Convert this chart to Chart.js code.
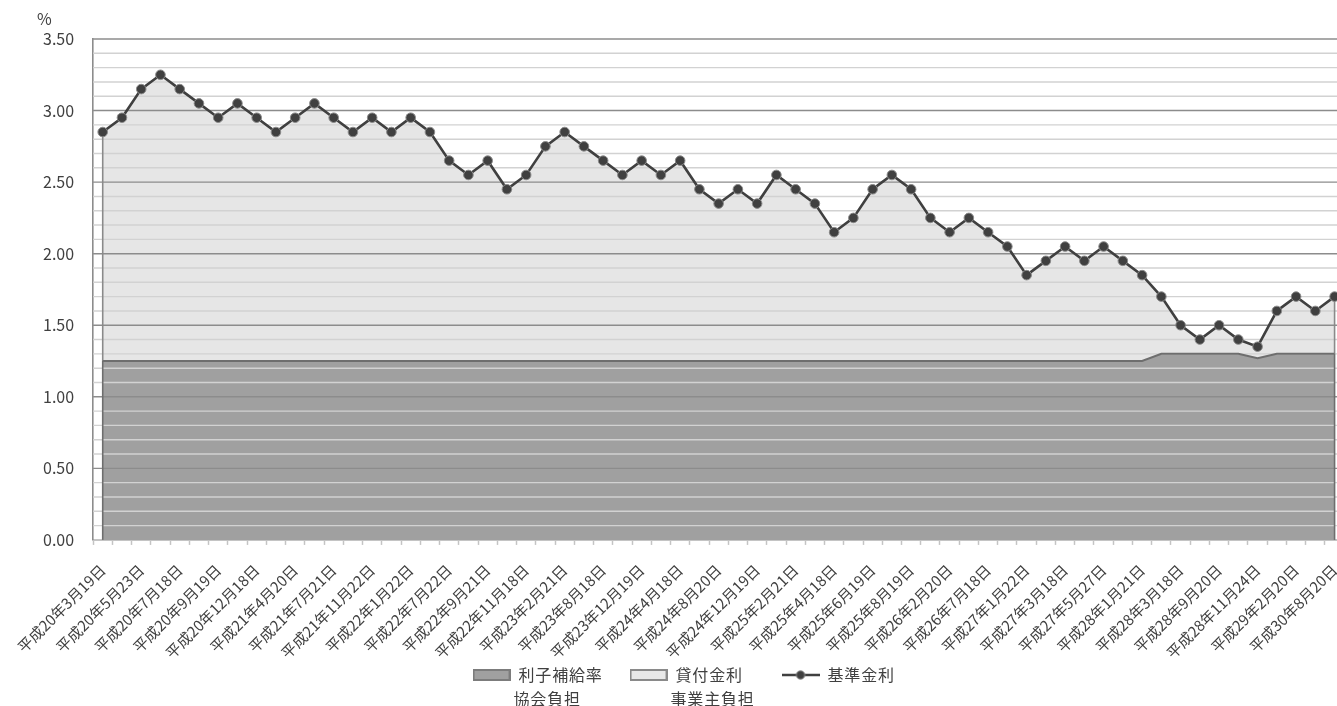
<!DOCTYPE html>
<html>
<head>
<meta charset="utf-8">
<script src="https://cdn.jsdelivr.net/npm/chart.js@4"></script>
<style>
  html, body { margin: 0; padding: 0; overflow: hidden; background: #ffffff; }
  #wrap { width: 1350px; height: 706px; position: relative; }
</style>
</head>
<body>
<div id="wrap"><canvas id="chart"></canvas></div>
<script>
// Date labels shown under every other observation
const tickDates = [
  '平成20年3月19日', '平成20年5月23日', '平成20年7月18日', '平成20年9月19日',
  '平成20年12月18日', '平成21年4月20日', '平成21年7月21日', '平成21年11月22日',
  '平成22年1月22日', '平成22年7月22日', '平成22年9月21日', '平成22年11月18日',
  '平成23年2月21日', '平成23年8月18日', '平成23年12月19日', '平成24年4月18日',
  '平成24年8月20日', '平成24年12月19日', '平成25年2月21日', '平成25年4月18日',
  '平成25年6月19日', '平成25年8月19日', '平成26年2月20日', '平成26年7月18日',
  '平成27年1月22日', '平成27年3月18日', '平成27年5月27日', '平成28年1月21日',
  '平成28年3月18日', '平成28年9月20日', '平成28年11月24日', '平成29年2月20日',
  '平成30年8月20日'
];

// 基準金利 (%)
const baseRate = [
  2.85, 2.95, 3.15, 3.25, 3.15, 3.05, 2.95, 3.05, 2.95, 2.85,
  2.95, 3.05, 2.95, 2.85, 2.95, 2.85, 2.95, 2.85, 2.65, 2.55,
  2.65, 2.45, 2.55, 2.75, 2.85, 2.75, 2.65, 2.55, 2.65, 2.55,
  2.65, 2.45, 2.35, 2.45, 2.35, 2.55, 2.45, 2.35, 2.15, 2.25,
  2.45, 2.55, 2.45, 2.25, 2.15, 2.25, 2.15, 2.05, 1.85, 1.95,
  2.05, 1.95, 2.05, 1.95, 1.85, 1.70, 1.50, 1.40, 1.50, 1.40,
  1.35, 1.60, 1.70, 1.60, 1.70
];

// 利子補給率 (協会負担, %)
const subsidyRate = [
  1.25, 1.25, 1.25, 1.25, 1.25, 1.25, 1.25, 1.25, 1.25, 1.25,
  1.25, 1.25, 1.25, 1.25, 1.25, 1.25, 1.25, 1.25, 1.25, 1.25,
  1.25, 1.25, 1.25, 1.25, 1.25, 1.25, 1.25, 1.25, 1.25, 1.25,
  1.25, 1.25, 1.25, 1.25, 1.25, 1.25, 1.25, 1.25, 1.25, 1.25,
  1.25, 1.25, 1.25, 1.25, 1.25, 1.25, 1.25, 1.25, 1.25, 1.25,
  1.25, 1.25, 1.25, 1.25, 1.25, 1.30, 1.30, 1.30, 1.30, 1.30,
  1.27, 1.30, 1.30, 1.30, 1.30
];

const yTickValues = [0, 0.5, 1, 1.5, 2, 2.5, 3, 3.5];
const subsidyLabel = ['利子補給率', '協会負担'];
const borrowerLabel = ['貸付金利', '事業主負担'];
const baseLabel = ['基準金利'];
const unitLabel = '%';

const categories = baseRate.map((_, i) => (i % 2 === 0 ? tickDates[i / 2] : ''));

const FONT = '"Noto Sans CJK JP", "Noto Sans", sans-serif';
const TEXT = '#404040';

// Legend swatches
function boxIcon(fill, stroke) {
  const c = document.createElement('canvas');
  c.width = 38; c.height = 12;
  const g = c.getContext('2d');
  g.fillStyle = fill; g.fillRect(1, 1, 36, 10);
  g.strokeStyle = stroke; g.lineWidth = 2; g.strokeRect(1, 1, 36, 10);
  return c;
}
function lineIcon() {
  const c = document.createElement('canvas');
  c.width = 38; c.height = 12;
  const g = c.getContext('2d');
  g.strokeStyle = '#404040'; g.lineWidth = 2.5;
  g.beginPath(); g.moveTo(0, 6); g.lineTo(38, 6); g.stroke();
  g.fillStyle = '#404040'; g.beginPath(); g.arc(19, 6, 4.2, 0, Math.PI * 2); g.fill();
  g.strokeStyle = '#8a8a8a'; g.lineWidth = 1; g.stroke();
  return c;
}
const legendIcons = [boxIcon('#a0a0a0', '#7c7c7c'), boxIcon('#e8e8e8', '#8a8a8a'), lineIcon()];

// Horizontal rules every 0.1 drawn over the filled bands, below the rate line,
// the side edges of the filled bands, the unit label and a two-line legend
const overlayPlugin = {
  id: 'overlay',
  beforeDatasetsDraw(chart) {
    const { ctx, chartArea } = chart;
    const y = chart.scales.y;
    const x = chart.scales.x;
    ctx.save();
    ctx.lineWidth = 1.4;
    for (let k = 1; k <= 35; k++) {
      const py = y.getPixelForValue(k / 10);
      ctx.strokeStyle = k % 5 === 0 ? '#8c8c8c' : '#d2d2d2';
      ctx.beginPath();
      ctx.moveTo(chartArea.left, py);
      ctx.lineTo(chartArea.right, py);
      ctx.stroke();
    }
    const last = baseRate.length - 1;
    [0, last].forEach(i => {
      const px = x.getPixelForValue(i);
      ctx.lineWidth = 1.6;
      ctx.strokeStyle = '#6e6e6e';
      ctx.beginPath();
      ctx.moveTo(px, y.getPixelForValue(0));
      ctx.lineTo(px, y.getPixelForValue(subsidyRate[i]));
      ctx.stroke();
      ctx.strokeStyle = '#8a8a8a';
      ctx.beginPath();
      ctx.moveTo(px, y.getPixelForValue(subsidyRate[i]));
      ctx.lineTo(px, y.getPixelForValue(baseRate[i]));
      ctx.stroke();
    });
    ctx.restore();
  },
  afterDatasetsDraw(chart) {
    // the date axis is drawn after the datasets; give its labels a little tracking
    if ('letterSpacing' in chart.ctx) chart.ctx.letterSpacing = '0.6px';
  },
  afterDraw(chart) {
    const { ctx, chartArea } = chart;
    if ('letterSpacing' in ctx) ctx.letterSpacing = '0px';
    ctx.save();
    ctx.font = '16px ' + FONT;
    ctx.fillStyle = TEXT;
    ctx.textAlign = 'left';
    ctx.textBaseline = 'middle';
    ctx.fillText(unitLabel, chartArea.left - 56, chartArea.top - 20);

    // legend
    const items = [
      { icon: legendIcons[0], lines: subsidyLabel },
      { icon: legendIcons[1], lines: borrowerLabel },
      { icon: legendIcons[2], lines: baseLabel }
    ];
    if ('letterSpacing' in ctx) ctx.letterSpacing = '0.8px';
    const iconW = 38, iconGap = 8, itemGap = 27, lineGap = 24, indent = 5;
    const widths = items.map(it => iconW + iconGap +
      Math.max(...it.lines.map((l, j) => ctx.measureText(l).width - (j > 0 ? indent : 0))));
    const total = widths.reduce((a, b) => a + b, 0) + itemGap * (items.length - 1);
    const centerX = (chartArea.left + chartArea.right) / 2 - 35;
    let lx = centerX - total / 2;
    const firstY = chart.height - 31;
    items.forEach((it, i) => {
      ctx.drawImage(it.icon, lx, firstY - 6);
      it.lines.forEach((line, j) => {
        ctx.fillText(line, lx + iconW + iconGap - (j > 0 ? indent : 0), firstY + j * lineGap);
      });
      lx += widths[i] + itemGap;
    });
    ctx.restore();
    if ('letterSpacing' in ctx) ctx.letterSpacing = '0px';
  }
};

new Chart(document.getElementById('chart'), {
  type: 'line',
  data: {
    labels: categories,
    datasets: [
      {
        label: subsidyLabel.join(''),
        data: subsidyRate,
        order: 3,
        fill: 'origin',
        backgroundColor: '#a0a0a0',
        borderColor: '#6e6e6e',
        borderWidth: 2,
        pointRadius: 0,
        tension: 0
      },
      {
        label: borrowerLabel.join(''),
        data: baseRate,
        order: 2,
        fill: '-1',
        backgroundColor: '#e6e6e6',
        borderWidth: 0,
        borderColor: 'rgba(0,0,0,0)',
        pointRadius: 0,
        tension: 0
      },
      {
        label: baseLabel.join(''),
        data: baseRate,
        order: 1,
        fill: false,
        borderColor: '#404040',
        borderWidth: 2.6,
        pointRadius: 4.8,
        pointBackgroundColor: '#404040',
        pointBorderColor: '#8a8a8a',
        pointBorderWidth: 1,
        tension: 0
      }
    ]
  },
  options: {
    responsive: true,
    maintainAspectRatio: false,
    animation: false,
    events: [],
    layout: { padding: { top: 39, left: 24, right: 5, bottom: 28 } },
    scales: {
      x: {
        type: 'category',
        offset: true,
        z: 1,
        afterFit(scale) {
          scale.paddingLeft = 0;
          scale.paddingRight = 0;
        },
        grid: {
          display: true,
          offset: true,
          drawOnChartArea: false,
          drawTicks: true,
          tickLength: 5,
          tickWidth: 1.5,
          tickColor: '#c4c4c4'
        },
        border: { display: true, color: '#c4c4c4', width: 2 },
        ticks: {
          autoSkip: false,
          maxRotation: 45,
          minRotation: 45,
          padding: 16,
          color: TEXT,
          font: { family: FONT, size: 15 }
        }
      },
      y: {
        min: 0,
        max: 3.5,
        afterBuildTicks(scale) {
          scale.ticks = yTickValues.map(v => ({ value: v }));
        },
        grid: { display: true, drawOnChartArea: false, drawTicks: false },
        border: { display: true, color: '#8c8c8c', width: 1.6 },
        ticks: {
          padding: 19,
          color: TEXT,
          font: { family: FONT, size: 16 },
          callback: v => Number(v).toFixed(2)
        }
      }
    },
    plugins: {
      filler: { drawTime: 'beforeDatasetsDraw' },
      tooltip: { enabled: false },
      title: { display: false },
      legend: { display: false }
    }
  },
  plugins: [overlayPlugin]
});
</script>
</body>
</html>
